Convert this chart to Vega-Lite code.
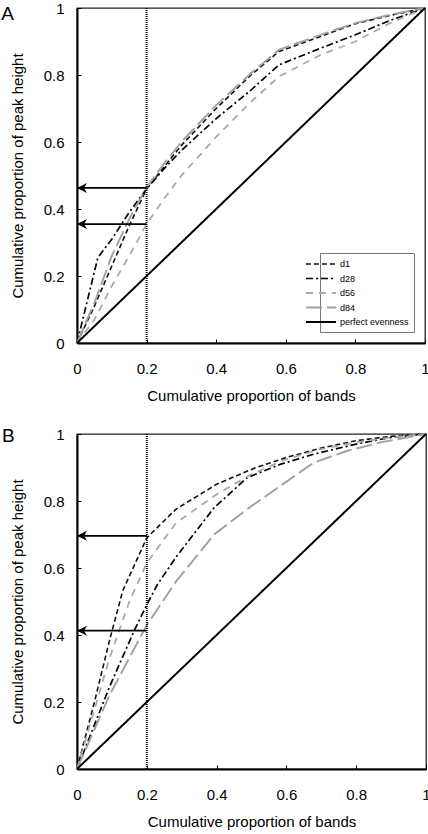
{
  "$schema": "https://vega.github.io/schema/vega-lite/v6.json",
  "padding": {"left": 0, "top": 0, "right": 0, "bottom": 0},
  "autosize": {"type": "pad"},
  "spacing": 22,
  "config": {
    "font": "Liberation Sans",
    "view": {"stroke": "#222", "strokeWidth": 1.3},
    "axis": {
      "grid": false,
      "domainColor": "black",
      "domainWidth": 2,
      "tickColor": "black",
      "tickWidth": 1,
      "tickSize": -4,
      "labelFont": "Liberation Sans",
      "labelFontSize": 15,
      "labelColor": "black",
      "labelFlush": false,
      "labelOverlap": false,
      "titleFont": "Liberation Sans",
      "titleFontSize": 15,
      "titleFontWeight": "normal",
      "titleColor": "black"
    },
    "axisX": {"labelPadding": 22, "titlePadding": 12},
    "axisY": {"labelPadding": 17, "titlePadding": 18},
    "legend": {
      "labelFont": "Liberation Sans",
      "labelFontSize": 9,
      "labelColor": "black",
      "symbolType": "M-5,0L1,0",
      "symbolSize": 100,
      "labelOffset": 3,
      "rowPadding": 3.5,
      "padding": 5,
      "strokeColor": "#777",
      "fillColor": "white",
      "cornerRadius": 0
    }
  },
  "datasets": {
    "curvesA": [
      {"series": "d1", "x": 0, "y": 0},
      {"series": "d1", "x": 0.05, "y": 0.11},
      {"series": "d1", "x": 0.1, "y": 0.23},
      {"series": "d1", "x": 0.15, "y": 0.35},
      {"series": "d1", "x": 0.2, "y": 0.46},
      {"series": "d1", "x": 0.25, "y": 0.525},
      {"series": "d1", "x": 0.3, "y": 0.59},
      {"series": "d1", "x": 0.4, "y": 0.7},
      {"series": "d1", "x": 0.5, "y": 0.8},
      {"series": "d1", "x": 0.58, "y": 0.87},
      {"series": "d1", "x": 0.7, "y": 0.915},
      {"series": "d1", "x": 0.8, "y": 0.953},
      {"series": "d1", "x": 0.9, "y": 0.978},
      {"series": "d1", "x": 1, "y": 1},
      {"series": "d28", "x": 0, "y": 0},
      {"series": "d28", "x": 0.06, "y": 0.255},
      {"series": "d28", "x": 0.1, "y": 0.31},
      {"series": "d28", "x": 0.15, "y": 0.39},
      {"series": "d28", "x": 0.2, "y": 0.46},
      {"series": "d28", "x": 0.25, "y": 0.52},
      {"series": "d28", "x": 0.3, "y": 0.575},
      {"series": "d28", "x": 0.4, "y": 0.67},
      {"series": "d28", "x": 0.5, "y": 0.755},
      {"series": "d28", "x": 0.58, "y": 0.83},
      {"series": "d28", "x": 0.7, "y": 0.88},
      {"series": "d28", "x": 0.8, "y": 0.92},
      {"series": "d28", "x": 0.9, "y": 0.963},
      {"series": "d28", "x": 1, "y": 1},
      {"series": "d56", "x": 0, "y": 0},
      {"series": "d56", "x": 0.05, "y": 0.07},
      {"series": "d56", "x": 0.1, "y": 0.17},
      {"series": "d56", "x": 0.15, "y": 0.26},
      {"series": "d56", "x": 0.2, "y": 0.355},
      {"series": "d56", "x": 0.25, "y": 0.43},
      {"series": "d56", "x": 0.3, "y": 0.5},
      {"series": "d56", "x": 0.4, "y": 0.615},
      {"series": "d56", "x": 0.5, "y": 0.72},
      {"series": "d56", "x": 0.58, "y": 0.795},
      {"series": "d56", "x": 0.7, "y": 0.86},
      {"series": "d56", "x": 0.8, "y": 0.9},
      {"series": "d56", "x": 0.9, "y": 0.955},
      {"series": "d56", "x": 1, "y": 1},
      {"series": "d84", "x": 0, "y": 0},
      {"series": "d84", "x": 0.05, "y": 0.12},
      {"series": "d84", "x": 0.1, "y": 0.26},
      {"series": "d84", "x": 0.15, "y": 0.37},
      {"series": "d84", "x": 0.2, "y": 0.465},
      {"series": "d84", "x": 0.25, "y": 0.535},
      {"series": "d84", "x": 0.3, "y": 0.6},
      {"series": "d84", "x": 0.4, "y": 0.71},
      {"series": "d84", "x": 0.5, "y": 0.805},
      {"series": "d84", "x": 0.58, "y": 0.875},
      {"series": "d84", "x": 0.7, "y": 0.92},
      {"series": "d84", "x": 0.8, "y": 0.955},
      {"series": "d84", "x": 0.9, "y": 0.98},
      {"series": "d84", "x": 1, "y": 1},
      {"series": "perfect evenness", "x": 0, "y": 0},
      {"series": "perfect evenness", "x": 1, "y": 1}
    ],
    "curvesB": [
      {"series": "d1", "x": 0, "y": 0},
      {"series": "d1", "x": 0.05, "y": 0.2},
      {"series": "d1", "x": 0.093, "y": 0.383},
      {"series": "d1", "x": 0.131, "y": 0.532},
      {"series": "d1", "x": 0.2, "y": 0.69},
      {"series": "d1", "x": 0.284, "y": 0.776},
      {"series": "d1", "x": 0.4, "y": 0.85},
      {"series": "d1", "x": 0.513, "y": 0.9},
      {"series": "d1", "x": 0.6, "y": 0.93},
      {"series": "d1", "x": 0.7, "y": 0.958},
      {"series": "d1", "x": 0.8, "y": 0.98},
      {"series": "d1", "x": 0.9, "y": 0.993},
      {"series": "d1", "x": 1, "y": 1},
      {"series": "d28", "x": 0, "y": 0},
      {"series": "d28", "x": 0.093, "y": 0.245},
      {"series": "d28", "x": 0.164, "y": 0.413},
      {"series": "d28", "x": 0.2, "y": 0.49},
      {"series": "d28", "x": 0.23, "y": 0.55},
      {"series": "d28", "x": 0.284, "y": 0.633},
      {"series": "d28", "x": 0.393, "y": 0.78},
      {"series": "d28", "x": 0.488, "y": 0.87},
      {"series": "d28", "x": 0.584, "y": 0.91},
      {"series": "d28", "x": 0.679, "y": 0.94},
      {"series": "d28", "x": 0.8, "y": 0.97},
      {"series": "d28", "x": 0.9, "y": 0.99},
      {"series": "d28", "x": 1, "y": 1},
      {"series": "d56", "x": 0, "y": 0},
      {"series": "d56", "x": 0.093, "y": 0.33},
      {"series": "d56", "x": 0.15, "y": 0.5},
      {"series": "d56", "x": 0.2, "y": 0.615},
      {"series": "d56", "x": 0.284, "y": 0.735},
      {"series": "d56", "x": 0.4, "y": 0.82},
      {"series": "d56", "x": 0.5, "y": 0.88},
      {"series": "d56", "x": 0.6, "y": 0.925},
      {"series": "d56", "x": 0.7, "y": 0.955},
      {"series": "d56", "x": 0.8, "y": 0.975},
      {"series": "d56", "x": 0.9, "y": 0.99},
      {"series": "d56", "x": 1, "y": 1},
      {"series": "d84", "x": 0, "y": 0},
      {"series": "d84", "x": 0.093, "y": 0.22},
      {"series": "d84", "x": 0.2, "y": 0.43},
      {"series": "d84", "x": 0.284, "y": 0.56},
      {"series": "d84", "x": 0.393, "y": 0.7},
      {"series": "d84", "x": 0.488, "y": 0.776},
      {"series": "d84", "x": 0.584, "y": 0.846},
      {"series": "d84", "x": 0.679, "y": 0.915},
      {"series": "d84", "x": 0.775, "y": 0.95},
      {"series": "d84", "x": 0.87, "y": 0.975},
      {"series": "d84", "x": 1, "y": 1},
      {"series": "perfect evenness", "x": 0, "y": 0},
      {"series": "perfect evenness", "x": 1, "y": 1}
    ],
    "arrowsA": [
      {"value": 0.463, "from": 0.2, "to": 0},
      {"value": 0.355, "from": 0.2, "to": 0}
    ],
    "arrowsB": [
      {"value": 0.696, "from": 0.2, "to": 0},
      {"value": 0.413, "from": 0.2, "to": 0}
    ],
    "cut": [{"cut": 0.2}]
  },
  "vconcat": [
    {
      "width": 348,
      "height": 335,
      "layer": [
        {
          "data": {"name": "curvesA"},
          "mark": {"type": "line", "clip": false},
          "encoding": {
            "x": {"field": "x", "type": "quantitative", "scale": {"domain": [0, 1], "nice": false},
              "axis": {"title": "Cumulative proportion of bands", "values": [0, 0.1, 0.2, 0.3, 0.4, 0.5, 0.6, 0.7, 0.8, 0.9, 1],
                "labelExpr": "round(datum.value*10) % 2 == 0 ? format(datum.value, '~g') : ''"}},
            "y": {"field": "y", "type": "quantitative", "scale": {"domain": [0, 1], "nice": false},
              "axis": {"title": "Cumulative proportion of peak height", "values": [0, 0.1, 0.2, 0.3, 0.4, 0.5, 0.6, 0.7, 0.8, 0.9, 1],
                "labelExpr": "round(datum.value*10) % 2 == 0 ? format(datum.value, '~g') : ''"}},
            "color": {"field": "series", "type": "nominal",
              "scale": {"domain": ["d1", "d28", "d56", "d84", "perfect evenness"], "range": ["#111111", "#000000", "#aaaaaa", "#a0a0a0", "#000000"]},
              "legend": {"title": null, "orient": "none", "legendX": 243, "legendY": 245}},
            "strokeDash": {"field": "series", "type": "nominal",
              "scale": {"domain": ["d1", "d28", "d56", "d84", "perfect evenness"], "range": [[5, 3], [7, 3, 2, 3], [7, 6], [16, 5], [1, 0]]},
              "legend": {"title": null, "orient": "none", "legendX": 243, "legendY": 245}},
            "strokeWidth": {"field": "series", "type": "nominal",
              "scale": {"domain": ["d1", "d28", "d56", "d84", "perfect evenness"], "range": [1.6, 2, 1, 0.7, 1.5]},
              "legend": {"title": null, "orient": "none", "legendX": 243, "legendY": 245}},
            "order": {"field": "x", "type": "quantitative"}
          }
        },
        {
          "data": {"name": "cut"},
          "mark": {"type": "rule", "color": "black", "strokeWidth": 2, "strokeDash": [1, 1]},
          "encoding": {"x": {"field": "cut", "type": "quantitative"}}
        },
        {
          "data": {"name": "arrowsA"},
          "mark": {"type": "rule", "color": "black", "strokeWidth": 1.8},
          "encoding": {
            "x": {"field": "to", "type": "quantitative"},
            "x2": {"field": "from"},
            "y": {"field": "value", "type": "quantitative"}
          }
        },
        {
          "data": {"name": "arrowsA"},
          "mark": {"type": "point", "filled": true, "color": "black", "opacity": 1, "size": 100, "shape": "M0,0 L2,-1 L1.4,0 L2,1 Z"},
          "encoding": {
            "x": {"field": "to", "type": "quantitative"},
            "y": {"field": "value", "type": "quantitative"}
          }
        },
        {
          "data": {"values": [{"panel": "A"}]},
          "mark": {"type": "text", "align": "left", "baseline": "middle", "fontSize": 19, "font": "Liberation Sans", "color": "black"},
          "encoding": {
            "text": {"field": "panel"},
            "x": {"datum": -0.218},
            "y": {"datum": 0.982}
          }
        }
      ]
    },
    {
      "width": 349,
      "height": 335,
      "layer": [
        {
          "data": {"name": "curvesB"},
          "mark": {"type": "line", "clip": false},
          "encoding": {
            "x": {"field": "x", "type": "quantitative", "scale": {"domain": [0, 1], "nice": false},
              "axis": {"title": "Cumulative proportion of bands", "values": [0, 0.1, 0.2, 0.3, 0.4, 0.5, 0.6, 0.7, 0.8, 0.9, 1],
                "labelExpr": "round(datum.value*10) % 2 == 0 ? format(datum.value, '~g') : ''"}},
            "y": {"field": "y", "type": "quantitative", "scale": {"domain": [0, 1], "nice": false},
              "axis": {"title": "Cumulative proportion of peak height", "values": [0, 0.1, 0.2, 0.3, 0.4, 0.5, 0.6, 0.7, 0.8, 0.9, 1],
                "labelExpr": "round(datum.value*10) % 2 == 0 ? format(datum.value, '~g') : ''"}},
            "color": {"field": "series", "type": "nominal",
              "scale": {"domain": ["d1", "d28", "d56", "d84", "perfect evenness"], "range": ["#333333", "#000000", "#aaaaaa", "#a0a0a0", "#000000"]},
              "legend": {"title": null, "orient": "none", "legendX": 243, "legendY": 242}},
            "strokeDash": {"field": "series", "type": "nominal",
              "scale": {"domain": ["d1", "d28", "d56", "d84", "perfect evenness"], "range": [[5, 3], [7, 3, 2, 3], [7, 6], [16, 5], [1, 0]]},
              "legend": {"title": null, "orient": "none", "legendX": 243, "legendY": 242}},
            "strokeWidth": {"field": "series", "type": "nominal",
              "scale": {"domain": ["d1", "d28", "d56", "d84", "perfect evenness"], "range": [1.6, 2, 1, 0.7, 1.5]},
              "legend": {"title": null, "orient": "none", "legendX": 243, "legendY": 242}},
            "order": {"field": "x", "type": "quantitative"}
          }
        },
        {
          "data": {"name": "cut"},
          "mark": {"type": "rule", "color": "black", "strokeWidth": 2, "strokeDash": [1, 1]},
          "encoding": {"x": {"field": "cut", "type": "quantitative"}}
        },
        {
          "data": {"name": "arrowsB"},
          "mark": {"type": "rule", "color": "black", "strokeWidth": 1.8},
          "encoding": {
            "x": {"field": "to", "type": "quantitative"},
            "x2": {"field": "from"},
            "y": {"field": "value", "type": "quantitative"}
          }
        },
        {
          "data": {"name": "arrowsB"},
          "mark": {"type": "point", "filled": true, "color": "black", "opacity": 1, "size": 100, "shape": "M0,0 L2,-1 L1.4,0 L2,1 Z"},
          "encoding": {
            "x": {"field": "to", "type": "quantitative"},
            "y": {"field": "value", "type": "quantitative"}
          }
        },
        {
          "data": {"values": [{"panel": "B"}]},
          "mark": {"type": "text", "align": "left", "baseline": "middle", "fontSize": 19, "font": "Liberation Sans", "color": "black"},
          "encoding": {
            "text": {"field": "panel"},
            "x": {"datum": -0.215},
            "y": {"datum": 0.994}
          }
        }
      ]
    }
  ]
}
